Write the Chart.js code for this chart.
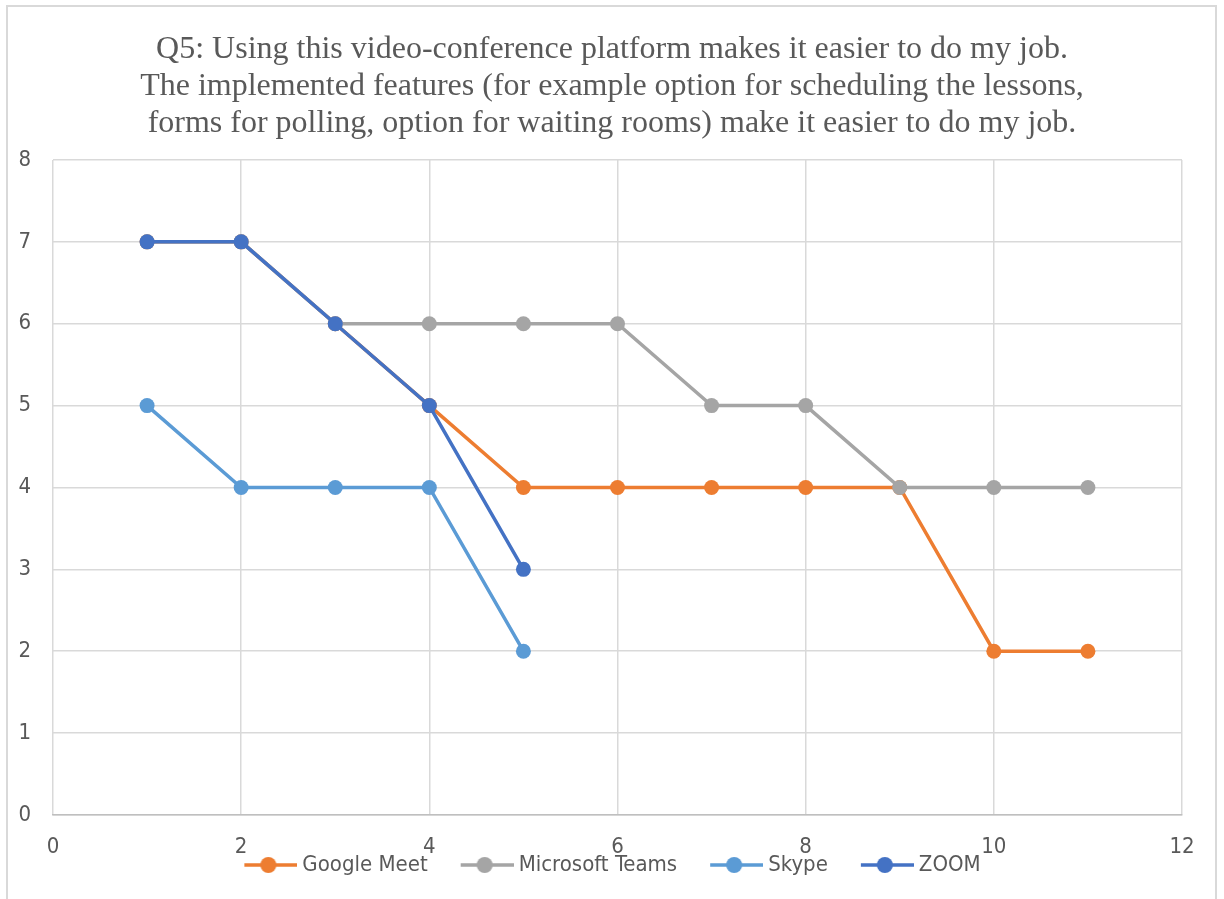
<!DOCTYPE html>
<html>
<head>
<meta charset="utf-8">
<script src="https://cdn.jsdelivr.net/npm/chart.js@4"></script>
<style>
  html, body { margin: 0; padding: 0; background: #fff; }
  #wrap { width: 1224px; height: 899px; }
</style>
</head>
<body>
<div id="wrap"><canvas id="myChart"></canvas></div>
<script>
let titleLines = [
    "Q5: Using this video-conference platform makes it easier to do my job.",
    "The implemented features (for example option for scheduling the lessons,",
    "forms for polling, option for waiting rooms) make it easier to do my job."
]

let xGoogle = [1, 2, 3, 4, 5, 6, 7, 8, 9, 10, 11]
let googleMeet = [7, 7, 6, 5, 4, 4, 4, 4, 4, 2, 2]
let xTeams = [1, 2, 3, 4, 5, 6, 7, 8, 9, 10, 11]
let microsoftTeams = [7, 7, 6, 6, 6, 6, 5, 5, 4, 4, 4]
let xSkype = [1, 2, 3, 4, 5]
let skype = [5, 4, 4, 4, 2]
let xZoom = [1, 2, 3, 4, 5]
let zoom = [7, 7, 6, 5, 3]

let tickFont = "'Liberation Sans Narrow', 'DejaVu Sans Condensed', sans-serif"
let textColor = "#595959"

function toPoints(xs, ys) {
    return xs.map((x, i) => ({ x: x, y: ys[i] }))
}

// legend marker: short line with a dot, excel style.
// the canvas has empty room on the left so items get spaced out
function legendMarker(color) {
    let c = document.createElement("canvas")
    c.width = 82
    c.height = 18
    let g = c.getContext("2d")
    g.strokeStyle = color
    g.lineWidth = 3.5
    g.beginPath()
    g.moveTo(29, 9)
    g.lineTo(82, 9)
    g.stroke()
    g.fillStyle = color
    g.beginPath()
    g.arc(53, 9, 8, 0, Math.PI * 2)
    g.fill()
    return c
}

function makeSet(label, xs, ys, color, order) {
    return {
        label: label,
        data: toPoints(xs, ys),
        borderColor: color,
        backgroundColor: color,
        showLine: true,
        borderWidth: 3.5,
        pointRadius: 7.5,
        pointHoverRadius: 7.5,
        pointBorderWidth: 0,
        order: order,
        marker: legendMarker(color),
    }
}

let borderPlugin = {
    id: "outerBorder",
    beforeDraw(chart) {
        let ctx = chart.ctx
        ctx.save()
        ctx.strokeStyle = "#d9d9d9"
        ctx.lineWidth = 2
        ctx.strokeRect(7, 6, 1209, 910)
        ctx.restore()
    },
}

// excel centres title and legend on the whole frame, and lets the
// x tick labels hang down next to the legend
let layoutFix = {
    id: "layoutFix",
    afterLayout(chart) {
        let w = chart.width
        chart.titleBlock.left = 0
        chart.titleBlock.right = w
        chart.titleBlock.width = w
        // first marker has empty room on its left, pull row back a bit
        chart.legend.left = -22
        chart.legend.right = w
        chart.legend.width = w + 22
        let sx = chart.scales.x
        sx.bottom = sx.top + 60
        sx.height = 60
    },
}

let config = {
    type: "scatter",
    data: {
        datasets: [
            makeSet("Google Meet", xGoogle, googleMeet, "#ED7D31", 4),
            makeSet("Microsoft Teams", xTeams, microsoftTeams, "#A5A5A5", 3),
            makeSet("Skype", xSkype, skype, "#5B9BD5", 2),
            makeSet("ZOOM", xZoom, zoom, "#4472C4", 1),
        ],
    },
    plugins: [borderPlugin, layoutFix],
    options: {
        responsive: true,
        maintainAspectRatio: false,
        animation: false,
        layout: { padding: { left: 0, right: 42, top: 0, bottom: 13 } },
        plugins: {
            tooltip: { enabled: false },
            title: {
                display: true,
                text: titleLines,
                color: textColor,
                font: { family: "'Liberation Serif', 'Times New Roman', serif", size: 32, weight: "normal", lineHeight: 1.156 },
                padding: { top: 31.5, bottom: 17.5 },
            },
            legend: {
                position: "bottom",
                labels: {
                    color: textColor,
                    font: { family: tickFont, size: 22 },
                    usePointStyle: true,
                    pointStyleWidth: 70,
                    padding: 10,
                    generateLabels: (chart) => chart.data.datasets.map((ds, i) => ({
                        text: ds.label,
                        fontColor: textColor,
                        pointStyle: ds.marker,
                        datasetIndex: i,
                        hidden: false,
                        lineWidth: 0,
                    })),
                },
            },
        },
        scales: {
            x: {
                type: "linear",
                min: 0,
                max: 12,
                ticks: { stepSize: 2, color: textColor, font: { family: tickFont, size: 22 }, padding: 19 },
                grid: { color: "#d9d9d9", lineWidth: 1.5, drawTicks: false },
                border: { color: "#bfbfbf", width: 1.5 },
                afterFit: (scale) => { scale.height = 29 },
            },
            y: {
                min: 0,
                max: 8,
                ticks: { stepSize: 1, color: textColor, font: { family: tickFont, size: 22 }, padding: 22 },
                grid: { color: "#d9d9d9", lineWidth: 1.5, drawTicks: false },
                border: { display: false },
                afterFit: (scale) => { scale.width = 53 },
            },
        },
    },
}

let myChart = new Chart(document.getElementById("myChart").getContext("2d"), config)
</script>
</body>
</html>
